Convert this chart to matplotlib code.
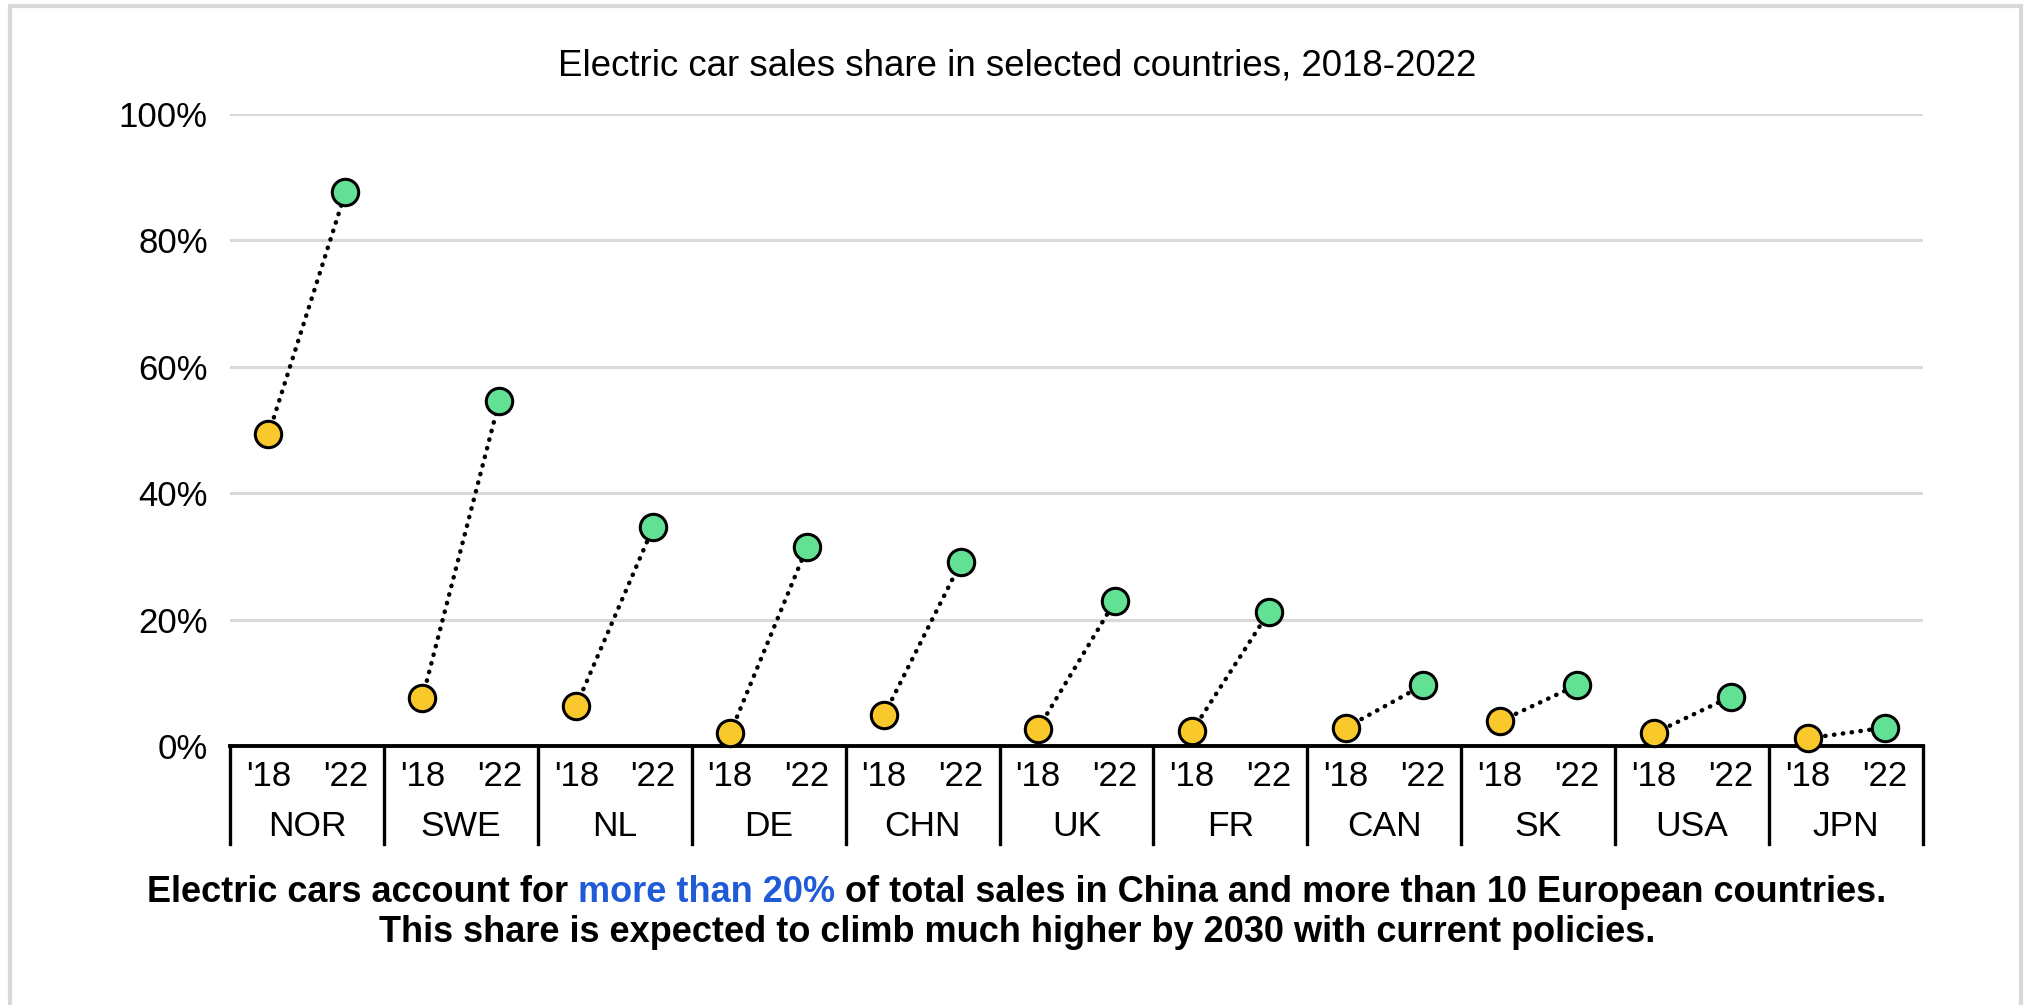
import matplotlib
matplotlib.use("Agg")
import matplotlib.pyplot as plt
import matplotlib.transforms as mtransforms
from matplotlib.ticker import FuncFormatter

# Electric car sales share (%)
countries = ["NOR", "SWE", "NL", "DE", "CHN", "UK", "FR", "CAN", "SK", "USA", "JPN"]
years = ["'18", "'22"]
share_2018 = [49.3, 7.6, 6.4, 2.0, 4.9, 2.7, 2.3, 2.9, 3.9, 2.0, 1.2]
share_2022 = [87.6, 54.6, 34.6, 31.5, 29.1, 22.9, 21.2, 9.6, 9.6, 7.8, 2.9]

title = "Electric car sales share in selected countries, 2018-2022"
footer1 = ["Electric cars account for", "more than 20%", "of total sales in China and more than 10 European countries."]
footer2 = "This share is expected to climb much higher by 2030 with current policies."

yellow = "#F9C82A"
green = "#62E194"
blue = "#1F5BD6"
grid_gray = "#D9D9D9"

plt.rcParams['font.family'] = ['Liberation Sans', 'DejaVu Sans']

W, H = 2031, 1005
fig = plt.figure(figsize=(W / 100, H / 100), dpi=100)
ax = fig.add_axes([230 / W, 1 - 746 / H, (1923 - 230) / W, (746 - 114) / H])

n = len(countries)
ax.set_xlim(0, 2 * n)
ax.set_ylim(0, 1)

# gridlines
for v in [0.2, 0.4, 0.6, 0.8, 1.0]:
    ax.axhline(v, color=grid_gray, lw=2.2, zorder=0)

for i in range(n):
    x18 = 2 * i + 0.5
    x22 = 2 * i + 1.5
    y18 = share_2018[i] / 100
    y22 = share_2022[i] / 100
    ax.plot([x18, x22], [y18, y22], color="black", lw=3.2,
            linestyle=(0, (0.1, 1.9)), dash_capstyle="round", zorder=2)
    ax.plot(x18, y18, "o", ms=19, mfc=yellow, mec="black", mew=2.2, zorder=3, clip_on=False)
    ax.plot(x22, y22, "o", ms=19, mfc=green, mec="black", mew=2.2, zorder=3, clip_on=False)

# axes styling
for s in ["top", "right", "left"]:
    ax.spines[s].set_visible(False)
ax.spines["bottom"].set_linewidth(2.8)
ax.spines["bottom"].set_zorder(2.5)
ax.set_yticks([0, 0.2, 0.4, 0.6, 0.8, 1.0])
ax.yaxis.set_major_formatter(FuncFormatter(lambda v, p: f"{v * 100:.0f}%"))
ax.tick_params(axis="y", length=0, pad=16, labelsize=25)
ax.set_xticks([])

# category labels with group dividers
trans = mtransforms.blended_transform_factory(ax.transData, ax.transAxes)
for i in range(n + 1):
    ax.plot([2 * i, 2 * i], [0, -0.155], color="black", lw=2.4, transform=trans, clip_on=False)
for i, c in enumerate(countries):
    for j, yr in enumerate(years):
        ax.text(2 * i + 0.5 + j, -0.049, yr, transform=trans, ha="center", va="center", fontsize=25)
    ax.text(2 * i + 1, -0.127, c, transform=trans, ha="center", va="center", fontsize=25.5)

fig.text(1017 / W, 1 - 66 / H, title, ha="center", va="center", fontsize=26.4)

# footer with a highlighted phrase
renderer = fig.canvas.get_renderer()
fsize = 26


def text_width(s):
    t = fig.text(0, 0, s, fontsize=fsize, weight="bold")
    w = t.get_window_extent(renderer).width
    t.remove()
    return w


space = text_width("x x") - text_width("xx")
widths = [text_width(s) for s in footer1]
total = sum(widths) + space * (len(footer1) - 1)
x = 1017 - total / 2
colors = ["black", blue, "black"]
for s, w, c in zip(footer1, widths, colors):
    fig.text(x / W, 1 - 892 / H, s, ha="left", va="center", fontsize=fsize, weight="bold", color=c)
    x += w + space
fig.text(1017 / W, 1 - 932 / H, footer2, ha="center", va="center", fontsize=fsize, weight="bold")

# light frame around the chart
frame = plt.Rectangle((10 / W, -0.05), (2021 - 10) / W, 1.05 - 6 / H, transform=fig.transFigure,
                      fill=False, edgecolor=grid_gray, lw=3)
fig.add_artist(frame)

fig.savefig("out.png", dpi=100)
